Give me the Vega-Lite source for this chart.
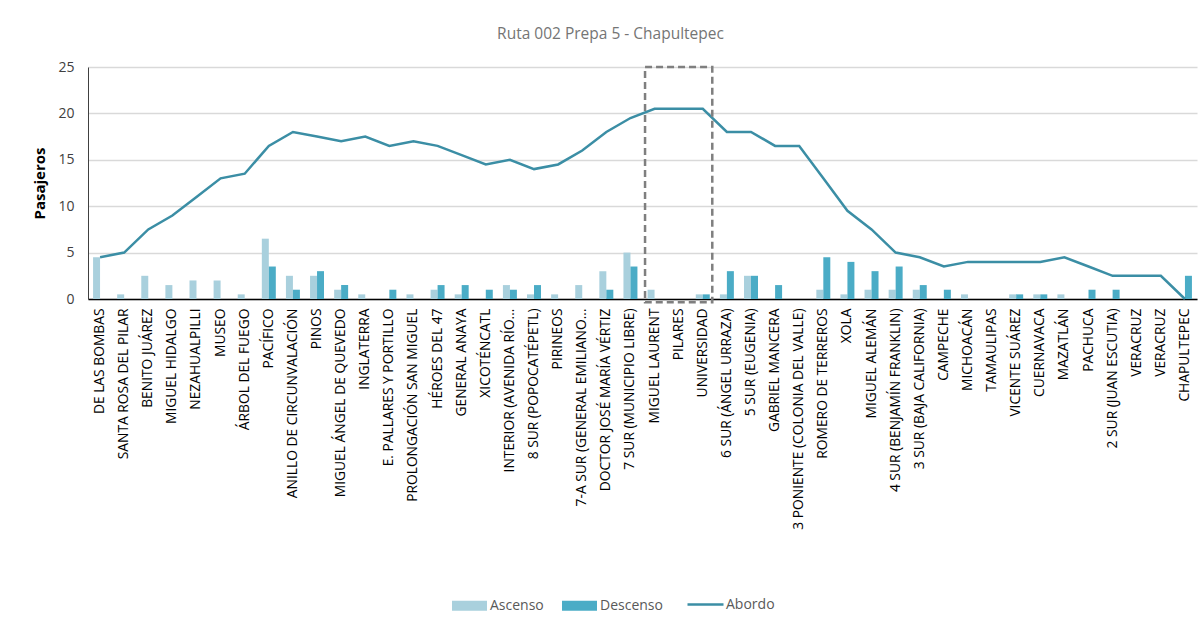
{
  "$schema": "https://vega.github.io/schema/vega-lite/v6.json",
  "width": 1109,
  "height": 232,
  "autosize": {"type": "none"},
  "padding": {"left": 88, "top": 67, "right": 3, "bottom": 325},
  "background": "white",
  "title": {"text": "Ruta 002 Prepa 5 - Chapultepec", "font": "Open Sans", "fontSize": 15.5, "fontWeight": "normal", "color": "#757575", "anchor": "middle", "dx": -32, "offset": 18},
  "config": {"view": {"stroke": null}, "font": "Open Sans"},
  "data": {"values": [
    {"stop": "DE LAS BOMBAS", "Ascenso": 4.5, "Descenso": 0, "Abordo": 4.5},
    {"stop": "SANTA ROSA DEL PILAR", "Ascenso": 0.5, "Descenso": 0, "Abordo": 5},
    {"stop": "BENITO JUÁREZ", "Ascenso": 2.5, "Descenso": 0, "Abordo": 7.5},
    {"stop": "MIGUEL HIDALGO", "Ascenso": 1.5, "Descenso": 0, "Abordo": 9},
    {"stop": "NEZAHUALPILLI", "Ascenso": 2, "Descenso": 0, "Abordo": 11},
    {"stop": "MUSEO", "Ascenso": 2, "Descenso": 0, "Abordo": 13},
    {"stop": "ÁRBOL DEL FUEGO", "Ascenso": 0.5, "Descenso": 0, "Abordo": 13.5},
    {"stop": "PACÍFICO", "Ascenso": 6.5, "Descenso": 3.5, "Abordo": 16.5},
    {"stop": "ANILLO DE CIRCUNVALACIÓN", "Ascenso": 2.5, "Descenso": 1, "Abordo": 18},
    {"stop": "PINOS", "Ascenso": 2.5, "Descenso": 3, "Abordo": 17.5},
    {"stop": "MIGUEL ÁNGEL DE QUEVEDO", "Ascenso": 1, "Descenso": 1.5, "Abordo": 17},
    {"stop": "INGLATERRA", "Ascenso": 0.5, "Descenso": 0, "Abordo": 17.5},
    {"stop": "E. PALLARES Y PORTILLO", "Ascenso": 0, "Descenso": 1, "Abordo": 16.5},
    {"stop": "PROLONGACIÓN SAN MIGUEL", "Ascenso": 0.5, "Descenso": 0, "Abordo": 17},
    {"stop": "HÉROES DEL 47", "Ascenso": 1, "Descenso": 1.5, "Abordo": 16.5},
    {"stop": "GENERAL ANAYA", "Ascenso": 0.5, "Descenso": 1.5, "Abordo": 15.5},
    {"stop": "XICOTÉNCATL", "Ascenso": 0, "Descenso": 1, "Abordo": 14.5},
    {"stop": "INTERIOR (AVENIDA RÍO...", "Ascenso": 1.5, "Descenso": 1, "Abordo": 15},
    {"stop": "8 SUR (POPOCATÉPETL)", "Ascenso": 0.5, "Descenso": 1.5, "Abordo": 14},
    {"stop": "PIRINEOS", "Ascenso": 0.5, "Descenso": 0, "Abordo": 14.5},
    {"stop": "7-A SUR (GENERAL EMILIANO...", "Ascenso": 1.5, "Descenso": 0, "Abordo": 16},
    {"stop": "DOCTOR JOSÉ MARÍA VÉRTIZ", "Ascenso": 3, "Descenso": 1, "Abordo": 18},
    {"stop": "7 SUR (MUNICIPIO LIBRE)", "Ascenso": 5, "Descenso": 3.5, "Abordo": 19.5},
    {"stop": "MIGUEL LAURENT", "Ascenso": 1, "Descenso": 0, "Abordo": 20.5},
    {"stop": "PILARES", "Ascenso": 0, "Descenso": 0, "Abordo": 20.5},
    {"stop": "UNIVERSIDAD", "Ascenso": 0.5, "Descenso": 0.5, "Abordo": 20.5},
    {"stop": "6 SUR (ÁNGEL URRAZA)", "Ascenso": 0.5, "Descenso": 3, "Abordo": 18},
    {"stop": "5 SUR (EUGENIA)", "Ascenso": 2.5, "Descenso": 2.5, "Abordo": 18},
    {"stop": "GABRIEL MANCERA", "Ascenso": 0, "Descenso": 1.5, "Abordo": 16.5},
    {"stop": "3 PONIENTE (COLONIA DEL VALLE)", "Ascenso": 0, "Descenso": 0, "Abordo": 16.5},
    {"stop": "ROMERO DE TERREROS", "Ascenso": 1, "Descenso": 4.5, "Abordo": 13},
    {"stop": "XOLA", "Ascenso": 0.5, "Descenso": 4, "Abordo": 9.5},
    {"stop": "MIGUEL ALEMÁN", "Ascenso": 1, "Descenso": 3, "Abordo": 7.5},
    {"stop": "4 SUR (BENJAMÍN FRANKLIN)", "Ascenso": 1, "Descenso": 3.5, "Abordo": 5},
    {"stop": "3 SUR (BAJA CALIFORNIA)", "Ascenso": 1, "Descenso": 1.5, "Abordo": 4.5},
    {"stop": "CAMPECHE", "Ascenso": 0, "Descenso": 1, "Abordo": 3.5},
    {"stop": "MICHOACÁN", "Ascenso": 0.5, "Descenso": 0, "Abordo": 4},
    {"stop": "TAMAULIPAS", "Ascenso": 0, "Descenso": 0, "Abordo": 4},
    {"stop": "VICENTE SUÁREZ", "Ascenso": 0.5, "Descenso": 0.5, "Abordo": 4},
    {"stop": "CUERNAVACA", "Ascenso": 0.5, "Descenso": 0.5, "Abordo": 4},
    {"stop": "MAZATLÁN", "Ascenso": 0.5, "Descenso": 0, "Abordo": 4.5},
    {"stop": "PACHUCA", "Ascenso": 0, "Descenso": 1, "Abordo": 3.5},
    {"stop": "2 SUR (JUAN ESCUTIA)", "Ascenso": 0, "Descenso": 1, "Abordo": 2.5},
    {"stop": "VERACRUZ", "Ascenso": 0, "Descenso": 0, "Abordo": 2.5},
    {"stop": "VERACRUZ\u200b", "Ascenso": 0, "Descenso": 0, "Abordo": 2.5},
    {"stop": "CHAPULTEPEC", "Ascenso": 0, "Descenso": 2.5, "Abordo": 0}
  ]},
  "encoding": {
    "x": {
      "field": "stop", "type": "nominal", "sort": null,
      "scale": {"paddingInner": 0.42, "paddingOuter": 0.21},
      "axis": {"title": null, "labelAngle": -90, "labelFont": "Open Sans", "labelFontSize": 13.8, "labelColor": "#000000", "labelPadding": 9, "labelLimit": 400, "ticks": false, "domainColor": "#000000", "domainWidth": 1.3, "grid": false}
    }
  },
  "layer": [
    {
      "transform": [{"fold": ["Ascenso", "Descenso"], "as": ["serie", "valor"]}],
      "mark": {"type": "bar"},
      "encoding": {
        "xOffset": {"field": "serie", "type": "nominal", "scale": {"paddingInner": 0, "paddingOuter": 0}},
        "y": {
          "field": "valor", "type": "quantitative",
          "scale": {"domain": [0, 25], "nice": false},
          "axis": {"title": "Pasajeros", "titleFont": "Open Sans", "titleFontSize": 15, "titleFontWeight": "bold", "titleColor": "#000000", "titlePadding": 10, "labelFont": "Open Sans", "labelFontSize": 14, "labelColor": "#404040", "labelPadding": 14, "ticks": false, "values": [0, 5, 10, 15, 20, 25], "domainColor": "#404040", "gridColor": "#d9d9d9", "gridWidth": 1.3}
        },
        "color": {
          "field": "serie", "type": "nominal",
          "scale": {"domain": ["Ascenso", "Descenso"], "range": ["#a9d0dd", "#4bacc6"]},
          "legend": {"orient": "none", "legendX": 364, "legendY": 521, "direction": "horizontal", "title": null, "symbolType": "M-1,-0.28H1V0.28H-1Z", "symbolSize": 1225, "symbolOpacity": 1, "symbolStrokeWidth": 0, "labelFont": "Open Sans", "labelFontSize": 14, "labelColor": "#595959", "labelOffset": 3, "columnPadding": 18, "padding": 0}
        }
      }
    },
    {
      "mark": {"type": "line", "strokeWidth": 2.5},
      "encoding": {
        "y": {"field": "Abordo", "type": "quantitative"},
        "color": {
          "datum": "Abordo",
          "scale": {"domain": ["Abordo"], "range": ["#3b8ea5"]},
          "legend": {"orient": "none", "legendX": 598, "legendY": 518, "title": null, "symbolType": "stroke", "symbolSize": 1296, "symbolStrokeWidth": 2.5, "labelFont": "Open Sans", "labelFontSize": 14, "labelColor": "#595959", "labelOffset": 1, "padding": 0}
        }
      }
    },
    {
      "data": {"values": [{"desde": "MIGUEL LAURENT", "hasta": "UNIVERSIDAD"}]},
      "mark": {"type": "rect", "filled": false, "stroke": "#7f7f7f", "strokeWidth": 2.5, "strokeDash": [7, 4]},
      "encoding": {
        "x": {"field": "desde", "type": "nominal", "bandPosition": -0.18},
        "x2": {"field": "hasta", "bandPosition": 1.18},
        "y": {"datum": 25},
        "y2": {"datum": -0.35}
      }
    }
  ],
  "resolve": {"scale": {"color": "independent"}, "legend": {"color": "independent"}}
}
